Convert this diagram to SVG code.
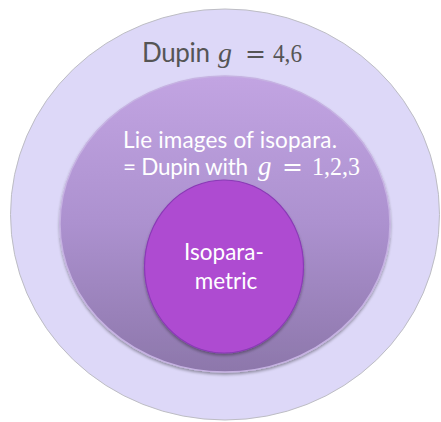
<svg xmlns="http://www.w3.org/2000/svg" width="441" height="422" viewBox="0 0 441 422">
  <defs>
    <linearGradient id="midGrad" x1="0" y1="0" x2="0" y2="1">
      <stop offset="0" stop-color="#C2A4E2"/>
      <stop offset="0.5" stop-color="#AC91CF"/>
      <stop offset="1" stop-color="#8D77AB"/>
    </linearGradient>
    <filter id="shadow" x="-10%" y="-10%" width="120%" height="125%">
      <feGaussianBlur in="SourceAlpha" stdDeviation="1.5"/>
      <feOffset dx="0" dy="2" result="b"/>
      <feComponentTransfer><feFuncA type="linear" slope="0.35"/></feComponentTransfer>
      <feMerge><feMergeNode/><feMergeNode in="SourceGraphic"/></feMerge>
    </filter>
    <style>
      .sans { font-family: Lato, "Open Sans", "Liberation Sans", sans-serif; }
      .math { font-family: "Liberation Serif", "DejaVu Serif", serif; }
      .eq { font-family: "DejaVu Serif", "Liberation Serif", serif; font-size: 25px; }
      .it { font-style: italic; }
      .white { fill: #FFFFFF; }
      .gray { fill: #555555; }
    </style>
  </defs>
  <rect width="441" height="422" fill="#FFFFFF"/>
  <g id="outer">
    <ellipse cx="225" cy="214.5" rx="214.5" ry="205.5" fill="#DDD8F8" stroke="#BDBDC4" stroke-width="1"/>
    <text class="gray" y="62"><tspan class="sans" x="142" font-size="26" textLength="68">Dupin</tspan><tspan class="math it" x="218" font-size="28">g</tspan><tspan class="eq" x="245">=</tspan><tspan class="math" x="273" font-size="26" textLength="29" lengthAdjust="spacingAndGlyphs">4,6</tspan></text>
  </g>
  <g id="middle">
    <ellipse cx="225" cy="224" rx="165" ry="148" fill="url(#midGrad)" stroke="#C6B2E2" stroke-width="1.5" filter="url(#shadow)"/>
    <text class="sans white" font-size="22.5" x="123" y="148" textLength="214">Lie images of isopara.</text>
    <text class="white" y="175"><tspan class="sans" x="123" font-size="22.5" textLength="125">= Dupin with</tspan><tspan class="math it" x="258" font-size="27">g</tspan><tspan class="eq" x="282">=</tspan><tspan class="math" x="312" font-size="26" textLength="48" lengthAdjust="spacingAndGlyphs">1,2,3</tspan></text>
  </g>
  <g id="inner">
    <ellipse cx="224" cy="266.5" rx="79.5" ry="86.5" fill="#AE4BD1" stroke="#8A3AB6" stroke-width="1.2" filter="url(#shadow)"/>
    <text class="sans white" font-size="22.5" text-anchor="middle" x="224" y="260">Isopara-</text>
    <text class="sans white" font-size="22.5" text-anchor="middle" x="226" y="289">metric</text>
  </g>
</svg>
